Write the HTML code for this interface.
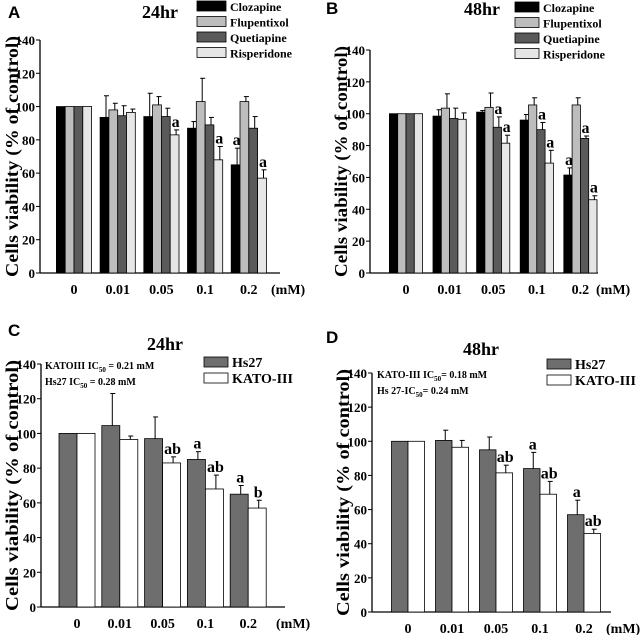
<!DOCTYPE html>
<html><head><meta charset="utf-8"><style>
html,body{margin:0;padding:0;background:#fff;}
svg{display:block;font-family:"Liberation Serif",serif;font-weight:bold;}
</style></head><body>
<svg id="fig" width="641" height="635" viewBox="0 0 641 635" xmlns="http://www.w3.org/2000/svg"></svg>
<script>
const doses = ["0","0.01","0.05","0.1","0.2"];
// Panel A (24hr drugs)
const aCloz = [100,93.5,94,87,65], aClozErr = [0,13,14,4,10];
const aFlup = [100,98,101,103,103], aFlupErr = [0,4,5,14,3];
const aQuet = [100,94.5,94,89,87], aQuetErr = [0,6,5,4.5,7];
const aRisp = [100,96.5,83,68,57], aRispErr = [0,2,3,8,5];
const aLetters = [["","","","","a"],["","","","",""],["","","","",""],["","","a","a","a"]];
// Panel B (48hr drugs)
const bCloz = [100,98.5,101,96,61.5], bClozErr = [0,4,1,3.5,4.5];
const bFlup = [100,103.5,104,105.5,105.5], bFlupErr = [0,9,9,4.5,4.5];
const bQuet = [100,97,91.5,90,84.5], bQuetErr = [0,6.5,6.5,4.5,1.5];
const bRisp = [100,96.5,81.5,69,46], bRispErr = [0,4,5,8,2.5];
const bLetters = [["","","","","a"],["","","","",""],["","","a","a","a"],["","","a","a","a"]];
// Panel C (24hr cells)
const cHs27 = [100,104.5,97,85,65], cHs27Err = [0,18.5,12.5,4.5,5];
const cKato = [100,96.5,83,68,57], cKatoErr = [0,2,3.5,8,4.5];
const cLetters = [["","","","a","a"],["","","ab","ab","b"]];
// Panel D (48hr cells)
const dHs27 = [100,100.5,95,84,57], dHs27Err = [0,6,7.5,9.5,8.5];
const dKato = [100,96.5,81.5,69,46], dKatoErr = [0,4,4.5,7.5,2.5];
const dLetters = [["","","","a","a"],["","","ab","ab","ab"]];
const yTicks = [0,20,40,60,80,100,120,140];

const NS="http://www.w3.org/2000/svg";
const svg=document.getElementById('fig');
function el(tag,attrs,parent,text){const e=document.createElementNS(NS,tag);for(const k in attrs)e.setAttribute(k,attrs[k]);if(text!==undefined)e.textContent=text;(parent||svg).appendChild(e);return e;}

function panel(cfg){
  const g=el('g',{});
  
  
  const y=v=>cfg.y0-(v/140)*(cfg.y0-cfg.y140);
  const xc=i=>cfg.c0+i*cfg.step;
  const ax=el('line',{x1:cfg.ax,y1:cfg.y140,x2:cfg.ax,y2:cfg.y0,stroke:'#000','stroke-width':1.3},g);
  
  const xa=el('line',{x1:cfg.ax,y1:cfg.y0,x2:cfg.axEnd,y2:cfg.y0,stroke:'#000','stroke-width':1.3},g);
  
  yTicks.forEach(t=>{
    el('line',{x1:cfg.ax-4,y1:y(t),x2:cfg.ax,y2:y(t),stroke:'#000','stroke-width':1},g);
    const tl=el('text',{x:cfg.ax-5,y:y(t)+5,'text-anchor':'end','font-size':13},g,t);
    
  });
  doses.forEach((d,i)=>{
    const tl=el('text',{x:xc(i),y:cfg.y0+21,'text-anchor':'middle','font-size':14},g,d);
    
  });
  const mm=el('text',{x:cfg.mmX,y:cfg.y0+21,'font-size':14},g,'(mM)');
  
  const yl=el('text',{x:0,y:0,'text-anchor':'middle','font-size':18,textLength:(cfg.y0-cfg.y140)+8,lengthAdjust:'spacingAndGlyphs',transform:`translate(${cfg.ylx},${(cfg.y0+cfg.y140)/2}) rotate(-90)`},g,'Cells viability (% of control)');
  
  const n=cfg.series.length;
  cfg.series.forEach((s,si)=>{
    s.vals.forEach((v,i)=>{
      const x=xc(i)-n*cfg.bw/2+si*cfg.bw;
      const r=el('rect',{x:x,y:y(v),width:cfg.bw,height:cfg.y0-y(v),fill:s.color,stroke:'#000','stroke-width':0.8},g);
      
      
      const e=s.err[i];
      if(e>0){
        const cx=x+cfg.bw/2+1.5;
        el('line',{x1:cx,y1:y(v),x2:cx,y2:y(v+e),stroke:'#000','stroke-width':1},g);
        el('line',{x1:cx-2,y1:y(v+e),x2:cx+3,y2:y(v+e),stroke:'#000','stroke-width':1},g);
      }
      const L=cfg.letters[si][i];
      if(L){
        const lt=el('text',{x:x+cfg.bw/2+1,y:y(v+e)-3,'text-anchor':'middle','font-size':16},g,L);
        
      }
    });
  });
  cfg.series.forEach((s,si)=>{
    const ly=cfg.legY+si*cfg.legDy;
    const lr=el('rect',{x:cfg.legX,y:ly-5,width:cfg.legW,height:10,fill:s.color,stroke:'#000','stroke-width':0.8},g);
    
    const lt=el('text',{x:cfg.legX+cfg.legW+4,y:ly+5,'font-size':cfg.legFont},g,s.label);
    
  });
  const tt=el('text',{x:cfg.titleX,y:cfg.titleY,'text-anchor':'middle','font-size':18},g,cfg.title);
  
  const pl=el('text',{x:cfg.letterX,y:cfg.letterY,'font-size':17,'font-family':'Liberation Sans, sans-serif'},g,cfg.letter);
  
  if(cfg.ic){
    cfg.ic.forEach((t,k)=>{
      const it=el('text',{x:cfg.icX,y:cfg.icY+k*16,'font-size':10},g);
      
      el('tspan',{},it,t[0]);el('tspan',{'font-size':7,dy:3},it,'50');el('tspan',{dy:-3},it,t[1]);
    });
  }
}
const cols={cloz:'#000',flup:'#bdbdbd',quet:'#5a5a5a',risp:'#e6e6e6',hs:'#6e6e6e',kato:'#fff'};
panel({name:'panel-a',letter:'A',letterX:8,letterY:18,title:'24hr',titleX:160,titleY:18,ax:40,axEnd:280,y0:273,y140:40,c0:74,step:43.7,bw:8.8,mmX:271,ylx:18,
  series:[{key:'clozapine',label:'Clozapine',color:cols.cloz,vals:aCloz,err:aClozErr},{key:'flupentixol',label:'Flupentixol',color:cols.flup,vals:aFlup,err:aFlupErr},{key:'quetiapine',label:'Quetiapine',color:cols.quet,vals:aQuet,err:aQuetErr},{key:'risperidone',label:'Risperidone',color:cols.risp,vals:aRisp,err:aRispErr}],
  letters:aLetters,legX:197,legY:6,legDy:15.5,legW:29,legFont:12});
panel({name:'panel-b',letter:'B',letterX:326,letterY:14,title:'48hr',titleX:482,titleY:15,ax:370,axEnd:598,y0:273,y140:50,c0:406,step:43.6,bw:8.3,mmX:596,ylx:347,
  series:[{key:'clozapine',label:'Clozapine',color:cols.cloz,vals:bCloz,err:bClozErr},{key:'flupentixol',label:'Flupentixol',color:cols.flup,vals:bFlup,err:bFlupErr},{key:'quetiapine',label:'Quetiapine',color:cols.quet,vals:bQuet,err:bQuetErr},{key:'risperidone',label:'Risperidone',color:cols.risp,vals:bRisp,err:bRispErr}],
  letters:bLetters,legX:515,legY:7,legDy:15.5,legW:24,legFont:12});
panel({name:'panel-c',letter:'C',letterX:8,letterY:336,title:'24hr',titleX:165,titleY:350,ax:41,axEnd:285,y0:607,y140:364,c0:77,step:42.8,bw:18,mmX:276,ylx:18,
  series:[{key:'hs27',label:'Hs27',color:cols.hs,vals:cHs27,err:cHs27Err},{key:'kato-iii',label:'KATO-III',color:cols.kato,vals:cKato,err:cKatoErr}],
  letters:cLetters,legX:204,legY:362,legDy:16,legW:24,legFont:14,icX:45,icY:369,ic:[['KATOIII IC',' = 0.21 mM'],['Hs27  IC',' = 0.28 mM']]});
panel({name:'panel-d',letter:'D',letterX:326,letterY:343,title:'48hr',titleX:481,titleY:355,ax:372,axEnd:611,y0:612,y140:373,c0:408,step:44,bw:16.5,mmX:606,ylx:349,
  series:[{key:'hs27',label:'Hs27',color:cols.hs,vals:dHs27,err:dHs27Err},{key:'kato-iii',label:'KATO-III',color:cols.kato,vals:dKato,err:dKatoErr}],
  letters:dLetters,legX:547,legY:364,legDy:16,legW:24,legFont:14,icX:377,icY:378,ic:[['KATO-III IC','= 0.18 mM'],['Hs 27-IC','= 0.24 mM']]});
</script>
</body></html>
